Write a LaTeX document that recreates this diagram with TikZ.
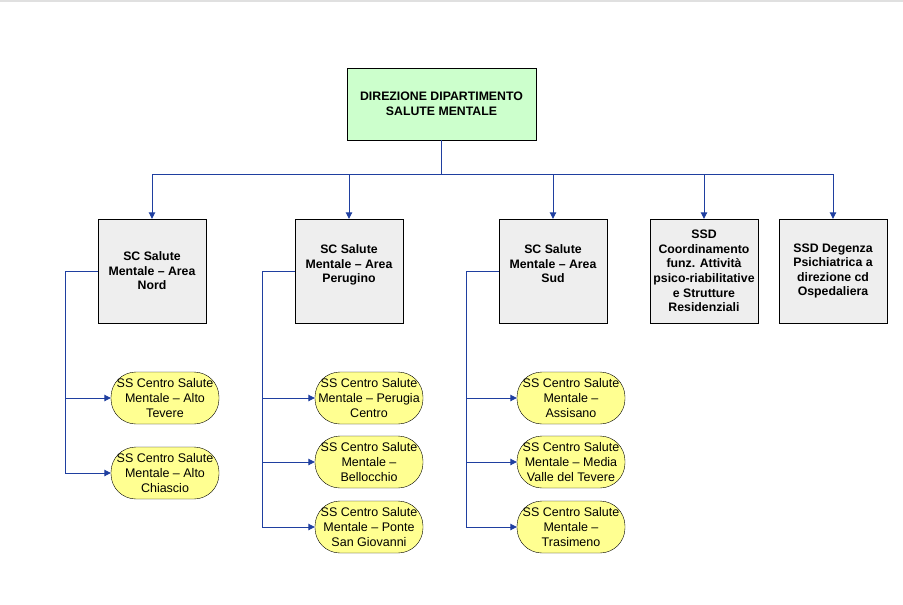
\documentclass[tikz,border=0pt]{standalone}
\usepackage{fontspec}
\setmainfont{Liberation Sans}
\usetikzlibrary{arrows.meta}

\definecolor{dirgreen}{RGB}{204,255,204}
\definecolor{scgray}{RGB}{238,238,238}
\definecolor{ssyellow}{RGB}{255,255,145}
\definecolor{linkblue}{RGB}{31,63,160}

\begin{document}
\begin{tikzpicture}[x=1pt, y=-1pt,
  dirbox/.style={draw, fill=dirgreen, minimum width=189pt, minimum height=72pt, align=center, inner sep=0pt,
    font=\fontsize{12.3}{15}\selectfont\bfseries},
  scbox/.style={draw, fill=scgray, minimum width=108pt, minimum height=104pt, align=center, inner sep=0pt,
    font=\fontsize{12.3}{14.6}\selectfont\bfseries},
  ssbox/.style={draw, fill=ssyellow, rounded corners=25pt, minimum width=108pt, minimum height=52pt, align=center, inner sep=0pt,
    font=\fontsize{12.5}{15}\selectfont},
  conn/.style={draw=linkblue, line width=0.9pt},
  arr/.style={conn, -{Triangle[length=6.5pt,width=6.5pt]}, linkblue}
]
\useasboundingbox (0,0) rectangle (903,605);
\draw[black!12, line width=2pt] (0,1) -- (903,1);

% direzione
\node[dirbox] (dir) at (441.5,104) {DIREZIONE DIPARTIMENTO\\SALUTE MENTALE};

% strutture complesse
\node[scbox] (nord) at (152,271) {SC Salute\\Mentale -- Area\\Nord};
\node[scbox] (perugino) at (349,271) {SC Salute\\Mentale -- Area\\Perugino\\\mbox{}};
\node[scbox] (sud) at (553,271) {SC Salute\\Mentale -- Area\\Sud\\\mbox{}};
\node[scbox] (coord) at (704,271) {SSD\\Coordinamento\\funz. Attività\\psico-riabilitative\\e Strutture\\Residenziali};
\node[scbox] (degenza) at (833,271) {SSD Degenza\\Psichiatrica a\\direzione cd\\Ospedaliera};

% strutture semplici
\node[ssbox] (altotevere) at (165,398) {SS Centro Salute\\Mentale -- Alto\\Tevere};
\node[ssbox] (altochiascio) at (165,473) {SS Centro Salute\\Mentale -- Alto\\Chiascio};
\node[ssbox] (perugia) at (369,398) {SS Centro Salute\\Mentale -- Perugia\\Centro};
\node[ssbox] (bellocchio) at (369,462) {SS Centro Salute\\Mentale --\\Bellocchio};
\node[ssbox] (ponte) at (369,527) {SS Centro Salute\\Mentale -- Ponte\\San Giovanni};
\node[ssbox] (assisano) at (571,398) {SS Centro Salute\\Mentale --\\Assisano};
\node[ssbox] (media) at (571,462) {SS Centro Salute\\Mentale -- Media\\Valle del Tevere};
\node[ssbox] (trasimeno) at (571,527) {SS Centro Salute\\Mentale --\\Trasimeno};

% connettori
\coordinate (bus) at (441.5,174);
\draw[conn] (dir.south) -- (bus);
\foreach \n in {nord,perugino,sud,coord,degenza}
  \draw[arr] (bus) -| (\n.north);

\foreach \p/\c in {nord/altotevere, nord/altochiascio,
                   perugino/perugia, perugino/bellocchio, perugino/ponte,
                   sud/assisano, sud/media, sud/trasimeno}
  \draw[arr] (\p.west) -- ++(-32,0) |- (\c.west);
\end{tikzpicture}
\end{document}
